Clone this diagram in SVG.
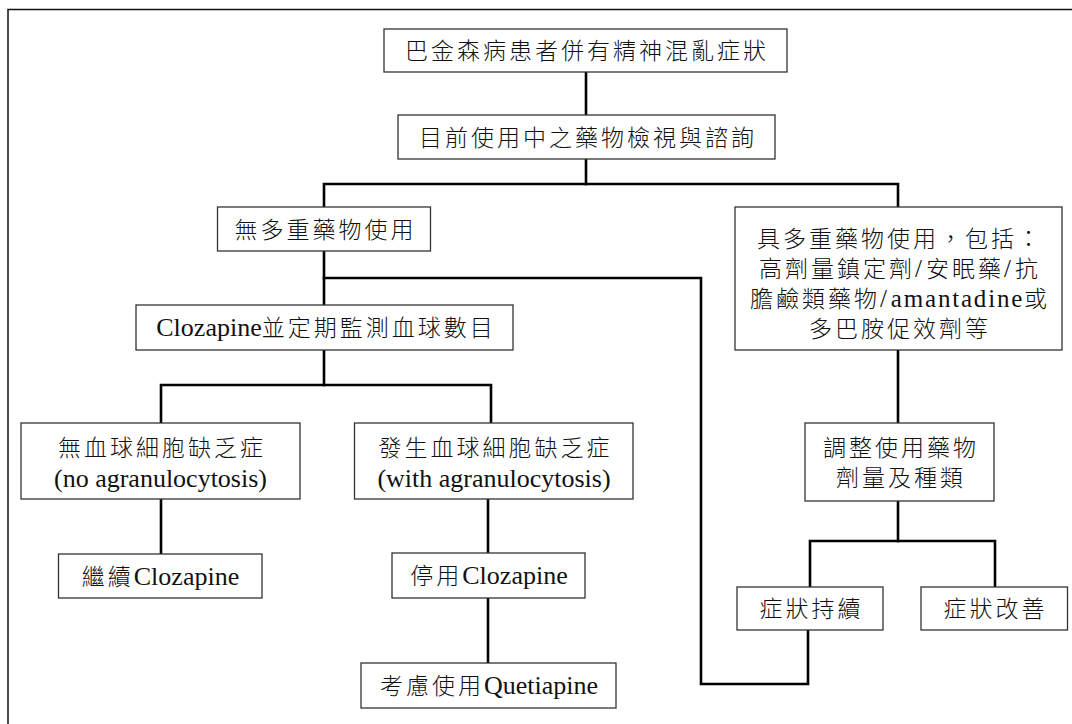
<svg xmlns="http://www.w3.org/2000/svg" width="1072" height="724" viewBox="0 0 1072 724">
<style>
.box{fill:#fff;stroke:#333;stroke-width:1.3}
.t{font-family:"Liberation Serif","Noto Sans CJK TC",serif;fill:#111;text-anchor:middle}
.c{font-family:"Noto Sans CJK TC","Noto Sans CJK SC",sans-serif;font-size:23px;letter-spacing:3px;font-weight:300}
.l{font-family:"Liberation Serif",serif;font-size:26px;letter-spacing:0}
.s{font-family:"Liberation Serif",serif;font-size:25px;letter-spacing:4px}
.conn path{fill:none;stroke:#000;stroke-width:2.6;stroke-linejoin:miter;stroke-linecap:square}
</style>
<rect x="0" y="0" width="1072" height="724" fill="#fff"/>
<path d="M8,724 V9.5 H1072" fill="none" stroke="#111" stroke-width="1.5"/>
<g class="conn" id="connectors">
<path d="M586,72 V115"/>
<path d="M586,159 V184"/>
<path d="M324,207 V184 H898 V207"/>
<path d="M324,251 V305"/>
<path d="M324,278 H701 V684 H808 V630"/>
<path d="M324,350 V385"/>
<path d="M161,423 V385 H491 V423"/>
<path d="M161,499 V554"/>
<path d="M488,499 V553"/>
<path d="M488,598 V663"/>
<path d="M898,350 V423"/>
<path d="M898,501 V541"/>
<path d="M810,587 V541 H995 V587"/>
</g>
<g id="n1"><rect class="box" x="384" y="29" width="403" height="43"/>
<text class="t" x="587" y="59"><tspan class="c">巴金森病患者併有精神混亂症狀</tspan></text></g>
<g id="n2"><rect class="box" x="398" y="115" width="377" height="44"/>
<text class="t" x="588" y="145.5"><tspan class="c">目前使用中之藥物檢視與諮詢</tspan></text></g>
<g id="n3"><rect class="box" x="217.5" y="207" width="213" height="44"/>
<text class="t" x="325.5" y="237.5"><tspan class="c">無多重藥物使用</tspan></text></g>
<g id="n4"><rect class="box" x="136" y="305" width="377" height="45"/>
<text class="t" x="326" y="336"><tspan class="l">Clozapine</tspan><tspan class="c">並定期監測血球數目</tspan></text></g>
<g id="n5"><rect class="box" x="735" y="207" width="327" height="143"/>
<text class="t" x="900" y="247"><tspan class="c">具多重藥物使用，包括：</tspan></text>
<text class="t" x="900" y="277"><tspan class="c">高劑量鎮定劑</tspan><tspan class="s">/</tspan><tspan class="c">安眠藥</tspan><tspan class="s">/</tspan><tspan class="c">抗</tspan></text>
<text class="t" x="900" y="307"><tspan class="c">膽鹼類藥物</tspan><tspan class="s">/</tspan><tspan class="l" style="font-size:25px;letter-spacing:1.8px">amantadine</tspan><tspan class="c">或</tspan></text>
<text class="t" x="900" y="337"><tspan class="c">多巴胺促效劑等</tspan></text></g>
<g id="n6"><rect class="box" x="21" y="423" width="279" height="76"/>
<text class="t" x="162" y="455.5"><tspan class="c">無血球細胞缺乏症</tspan></text>
<text class="t" x="160.5" y="487"><tspan class="l">(no agranulocytosis)</tspan></text></g>
<g id="n7"><rect class="box" x="354.5" y="423" width="278.5" height="76"/>
<text class="t" x="495.5" y="455.5"><tspan class="c">發生血球細胞缺乏症</tspan></text>
<text class="t" x="494" y="487"><tspan class="l">(with agranulocytosis)</tspan></text></g>
<g id="n8"><rect class="box" x="58.5" y="554" width="203.5" height="44"/>
<text class="t" x="160.5" y="584.5"><tspan class="c">繼續</tspan><tspan class="l">Clozapine</tspan></text></g>
<g id="n9"><rect class="box" x="392" y="553" width="193" height="45"/>
<text class="t" x="489" y="584"><tspan class="c">停用</tspan><tspan class="l">Clozapine</tspan></text></g>
<g id="n10"><rect class="box" x="361" y="663" width="255" height="45"/>
<text class="t" x="489" y="694"><tspan class="c">考慮使用</tspan><tspan class="l">Quetiapine</tspan></text></g>
<g id="n11"><rect class="box" x="805" y="423" width="189" height="78"/>
<text class="t" x="901" y="455.5"><tspan class="c">調整使用藥物</tspan></text>
<text class="t" x="901" y="486"><tspan class="c">劑量及種類</tspan></text></g>
<g id="n12"><rect class="box" x="737" y="587" width="146" height="43"/>
<text class="t" x="811.5" y="617"><tspan class="c">症狀持續</tspan></text></g>
<g id="n13"><rect class="box" x="921" y="587" width="146.5" height="43"/>
<text class="t" x="995.5" y="617"><tspan class="c">症狀改善</tspan></text></g>
</svg>
